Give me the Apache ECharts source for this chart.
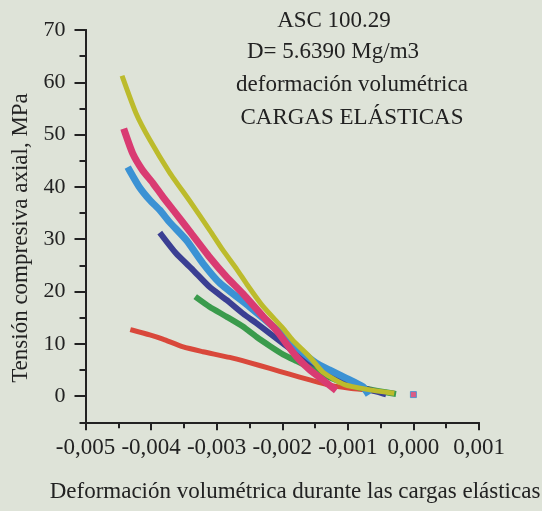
<!DOCTYPE html>
<html><head><meta charset="utf-8">
<script src="https://cdn.jsdelivr.net/npm/echarts@6/dist/echarts.min.js"></script>
<style>html,body{margin:0;padding:0;background:#dee3d8}#c{width:542px;height:511px}</style>
</head><body><div id="c"></div>
<script>
// Data (x: volumetric strain, y: axial stress MPa)
const yellow = [[-0.00443,60.8],[-0.00423,54.1],[-0.00402,49.0],[-0.00372,42.8],[-0.00341,37.3],[-0.00311,31.8],[-0.00291,28.0],[-0.00269,24.2],[-0.00254,21.4],[-0.00229,17.1],[-0.00199,13.0],[-0.00184,10.7],[-0.00158,7.5],[-0.00138,4.6],[-0.00105,2.2],[-0.00066,1.2],[-0.00033,0.6]];
const magenta = [[-0.00440,50.5],[-0.00428,46.4],[-0.00413,43.2],[-0.00397,40.7],[-0.00382,38.1],[-0.00362,34.9],[-0.00341,31.5],[-0.00311,26.6],[-0.00285,22.8],[-0.00260,19.6],[-0.00229,15.2],[-0.00209,12.6],[-0.00194,10.1],[-0.00178,7.5],[-0.00158,5.0],[-0.00138,3.1],[-0.00122,1.5]];
const blue = [[-0.00433,43.2],[-0.00418,40.0],[-0.00402,37.5],[-0.00387,35.6],[-0.00372,33.3],[-0.00346,29.8],[-0.00321,25.4],[-0.00295,21.6],[-0.00250,17.1],[-0.00211,13.0],[-0.00173,8.8],[-0.00148,6.3],[-0.00128,5.0],[-0.00102,3.4],[-0.00077,1.8],[-0.00071,0.8]];
const navy = [[-0.00384,30.8],[-0.00362,27.3],[-0.00336,24.1],[-0.00311,20.9],[-0.00285,18.4],[-0.00260,15.8],[-0.00239,13.9],[-0.00219,12.0],[-0.00199,10.1],[-0.00173,7.7],[-0.00133,5.0],[-0.00105,3.1],[-0.00082,1.8],[-0.00046,0.5]];
const green = [[-0.00329,18.7],[-0.00311,17.1],[-0.00285,15.2],[-0.00260,13.3],[-0.00239,11.3],[-0.00219,9.6],[-0.00199,8.0],[-0.00178,6.7],[-0.00153,5.2],[-0.00128,3.6],[-0.00105,2.5],[-0.00077,1.5],[-0.00031,0.5]];
const red = [[-0.00428,12.6],[-0.00402,11.7],[-0.00382,10.9],[-0.00351,9.4],[-0.00321,8.5],[-0.00280,7.4],[-0.00250,6.4],[-0.00219,5.3],[-0.00189,4.2],[-0.00158,3.1],[-0.00128,2.1],[-0.00097,1.5],[-0.00066,1.1],[-0.00033,0.6]];
const isolated = [[0.00000,0.3]];

const xTickValues = [-0.005,-0.004,-0.003,-0.002,-0.001,0.000,0.001];
const xTickLabels = ['-0,005','-0,004','-0,003','-0,002','-0,001','0,000','0,001'];
const yTickValues = [0,10,20,30,40,50,60,70];
const annotations = ['ASC 100.29','D= 5.6390 Mg/m3','deformación volumétrica','CARGAS ELÁSTICAS'];
const xTitle = 'Deformación volumétrica durante las cargas elásticas';
const yTitle = 'Tensión compresiva axial, MPa';

const FONT = '"Liberation Serif", "Times New Roman", serif';
const TXT = '#222222';
const chart = echarts.init(document.getElementById('c'), null, {renderer:'canvas'});

function xLabel(v){
  let best = 0, bd = 1;
  xTickValues.forEach((t,i)=>{const d=Math.abs(t-v); if(d<bd){bd=d;best=i;}});
  return xTickLabels[best];
}
function lineSeries(name, data, color, w){
  return {name, type:'line', data, symbol:'none', smooth:0.2,
    lineStyle:{color, width:w, cap:'square', join:'round'}, z:3, animation:false};
}
const annY = [21, 52, 85, 118];
const annX = [334, 333, 352, 352];

chart.setOption({
  backgroundColor:'#dee3d8',
  animation:false,
  grid:{left:85.5, right:63, top:30, bottom:88.7, containLabel:false},
  xAxis:{type:'value', min:-0.005, max:0.001, interval:0.001,
    axisLine:{show:true, onZero:false, lineStyle:{color:'#222', width:2}},
    axisTick:{show:true, length:8, lineStyle:{color:'#222', width:2}},
    minorTick:{show:true, splitNumber:2, length:6, lineStyle:{color:'#222', width:2}},
    splitLine:{show:false}, minorSplitLine:{show:false},
    axisLabel:{margin:14, fontFamily:FONT, fontSize:23, color:TXT, formatter:xLabel}
  },
  yAxis:[{type:'value', min:-5, max:70, interval:5,
    axisLine:{show:true, onZero:false, lineStyle:{color:'#222', width:2}},
    axisTick:{show:true, length:6, lineStyle:{color:'#222', width:2}},
    splitLine:{show:false}, axisLabel:{show:false}
  },{type:'value', min:-5, max:70, interval:5, position:'left', offset:0,
    axisLine:{show:true, onZero:false, lineStyle:{color:'#222', width:2}},
    splitLine:{show:false},
    axisLabel:{show:true, margin:20, fontFamily:FONT, fontSize:22, color:TXT, customValues:yTickValues},
    axisTick:{show:true, length:11, customValues:yTickValues, lineStyle:{color:'#222', width:2}}
  }],
  graphic:[
    ...annotations.map((t,i)=>({type:'text', x:annX[i], y:annY[i], style:{text:t, font:'23px '+FONT, fill:TXT, textAlign:'center', textVerticalAlign:'middle'}})),
    {type:'text', x:295, y:492, style:{text:xTitle, font:'23px '+FONT, fill:TXT, textAlign:'center', textVerticalAlign:'middle'}},
    {type:'text', x:21, y:238, rotation:Math.PI/2, style:{text:yTitle, font:'23px '+FONT, fill:TXT, textAlign:'center', textVerticalAlign:'middle'}}
  ],
  series:[
    lineSeries('rojo', red, '#d9483b', 5),
    lineSeries('verde', green, '#3a9b4c', 6),
    lineSeries('azul oscuro', navy, '#3b3f93', 6),
    lineSeries('azul claro', blue, '#3b92d4', 7),
    lineSeries('magenta', magenta, '#d93b72', 7),
    lineSeries('amarillo', yellow, '#bcbb2c', 5),
    {name:'punto', type:'scatter', data:isolated, symbol:'rect', symbolSize:6,
      itemStyle:{color:'#d93b72', borderColor:'#3b92d4', borderWidth:1}, z:4}
  ]
});
</script></body></html>
